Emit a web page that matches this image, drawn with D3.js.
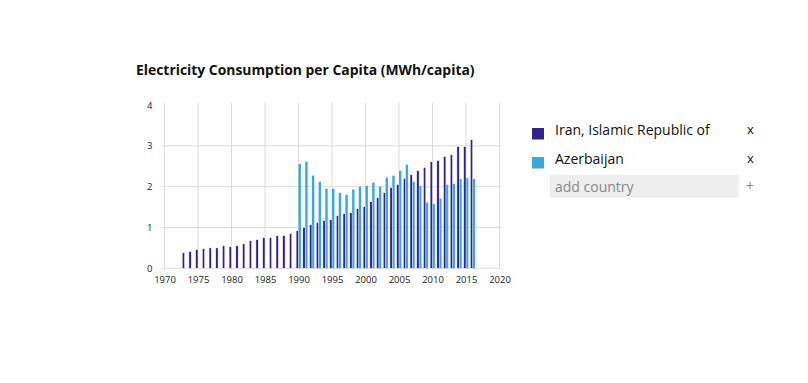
<!DOCTYPE html>
<html>
<head>
<meta charset="utf-8">
<script src="https://cdn.jsdelivr.net/npm/d3@7"></script>
<style>
  html, body { margin: 0; padding: 0; background: #fff; }
  svg { display: block; font-family: "Open Sans", sans-serif; }
</style>
</head>
<body>
<svg id="chart" width="808" height="383"></svg>
<script>
// ---- data ----
const title = "Electricity Consumption per Capita (MWh/capita)";
const countries = ["Iran, Islamic Republic of", "Azerbaijan"];
const colors = ["#332288", "#3aa8e0"];
const iranYears = [1973,1974,1975,1976,1977,1978,1979,1980,1981,1982,1983,1984,1985,1986,1987,1988,1989,1990,1991,1992,1993,1994,1995,1996,1997,1998,1999,2000,2001,2002,2003,2004,2005,2006,2007,2008,2009,2010,2011,2012,2013,2014,2015,2016];
const iranValues = [0.38,0.41,0.46,0.48,0.50,0.50,0.55,0.53,0.55,0.60,0.68,0.70,0.75,0.75,0.80,0.80,0.85,0.92,1.00,1.07,1.12,1.17,1.19,1.29,1.34,1.36,1.46,1.51,1.63,1.73,1.85,1.98,2.05,2.20,2.29,2.39,2.47,2.61,2.64,2.74,2.78,2.98,2.98,3.15];
const azerYears = [1990,1991,1992,1993,1994,1995,1996,1997,1998,1999,2000,2001,2002,2003,2004,2005,2006,2007,2008,2009,2010,2011,2012,2013,2014,2015,2016];
const azerValues = [2.56,2.61,2.27,2.12,1.95,1.95,1.85,1.80,1.93,2.00,2.02,2.10,2.00,2.22,2.27,2.39,2.54,2.12,2.02,1.61,1.58,1.71,2.05,2.07,2.19,2.21,2.19];
const xTicks = [1970,1975,1980,1985,1990,1995,2000,2005,2010,2015,2020];
const yTicks = [0,1,2,3,4];

// ---- layout ----
const svg = d3.select("#chart");
const plotLeft = 161.5, plotRight = 501.5, plotTop = 103, plotBottom = 268.3;
const x = d3.scaleLinear().domain([1970, 2020]).range([164.5, 499.5]);
const y = d3.scaleLinear().domain([0, 4]).range([268.3, 105]);
const barW = 2.4;

svg.append("text")
  .attr("x", 136).attr("y", 75)
  .attr("font-size", 13.9).attr("font-weight", 700).attr("fill", "#111")
  .text(title);

// grid
const g = svg.append("g");
g.selectAll(".vg").data(xTicks).join("line")
  .attr("x1", d => x(d)).attr("x2", d => x(d))
  .attr("y1", plotTop).attr("y2", plotBottom)
  .attr("stroke", "#dcdcdc").attr("stroke-width", 1);
g.selectAll(".hg").data(yTicks.filter(d => d < 4)).join("line")
  .attr("x1", plotLeft).attr("x2", plotRight)
  .attr("y1", d => y(d)).attr("y2", d => y(d))
  .attr("stroke", "#dcdcdc").attr("stroke-width", 1);

// axes labels via d3 axes
const xAxis = svg.append("g").attr("transform", `translate(0,${plotBottom})`)
  .call(d3.axisBottom(x).tickValues(xTicks).tickFormat(d3.format("d")).tickSize(0).tickPadding(8));
const yAxis = svg.append("g").attr("transform", `translate(${plotLeft},0)`)
  .call(d3.axisLeft(y).tickValues(yTicks).tickFormat(d3.format("d")).tickSize(0).tickPadding(9));
[xAxis, yAxis].forEach(a => {
  a.select(".domain").remove();
  a.selectAll("text").attr("font-family", "Open Sans").attr("font-size", 9.5).attr("fill", "#222");
});

// bars: Azerbaijan behind, Iran in front
svg.append("g").selectAll("rect").data(azerYears.map((yr, i) => [yr, azerValues[i]])).join("rect")
  .attr("x", d => x(d[0]))
  .attr("width", barW)
  .attr("y", d => y(d[1]))
  .attr("height", d => y(0) - y(d[1]))
  .attr("fill", colors[1]);
svg.append("g").selectAll("rect").data(iranYears.map((yr, i) => [yr, iranValues[i]])).join("rect")
  .attr("x", d => x(d[0]) - barW)
  .attr("width", barW)
  .attr("y", d => y(d[1]))
  .attr("height", d => y(0) - y(d[1]))
  .attr("fill", colors[0])
  .attr("stroke", "#fff").attr("stroke-width", 0.5);

// legend
const leg = svg.append("g");
countries.forEach((c, i) => {
  const yy = 134 + i * 29;
  leg.append("rect").attr("x", 532).attr("y", yy - 6).attr("width", 12).attr("height", 11.5).attr("fill", colors[i]);
  leg.append("text").attr("x", 555).attr("y", yy + 1).attr("font-size", 14).attr("fill", "#111").text(c);
  leg.append("text").attr("x", 747).attr("y", yy).attr("font-size", 13).attr("fill", "#111").text("x");
});
leg.append("rect").attr("x", 550).attr("y", 175).attr("width", 189).attr("height", 22.5).attr("fill", "#eeeeee");
leg.append("text").attr("x", 555).attr("y", 192).attr("font-size", 14).attr("fill", "#888").text("add country");
leg.append("text").attr("x", 746).attr("y", 191).attr("font-size", 14).attr("fill", "#b07a4a").text("+");
</script>
</body>
</html>
